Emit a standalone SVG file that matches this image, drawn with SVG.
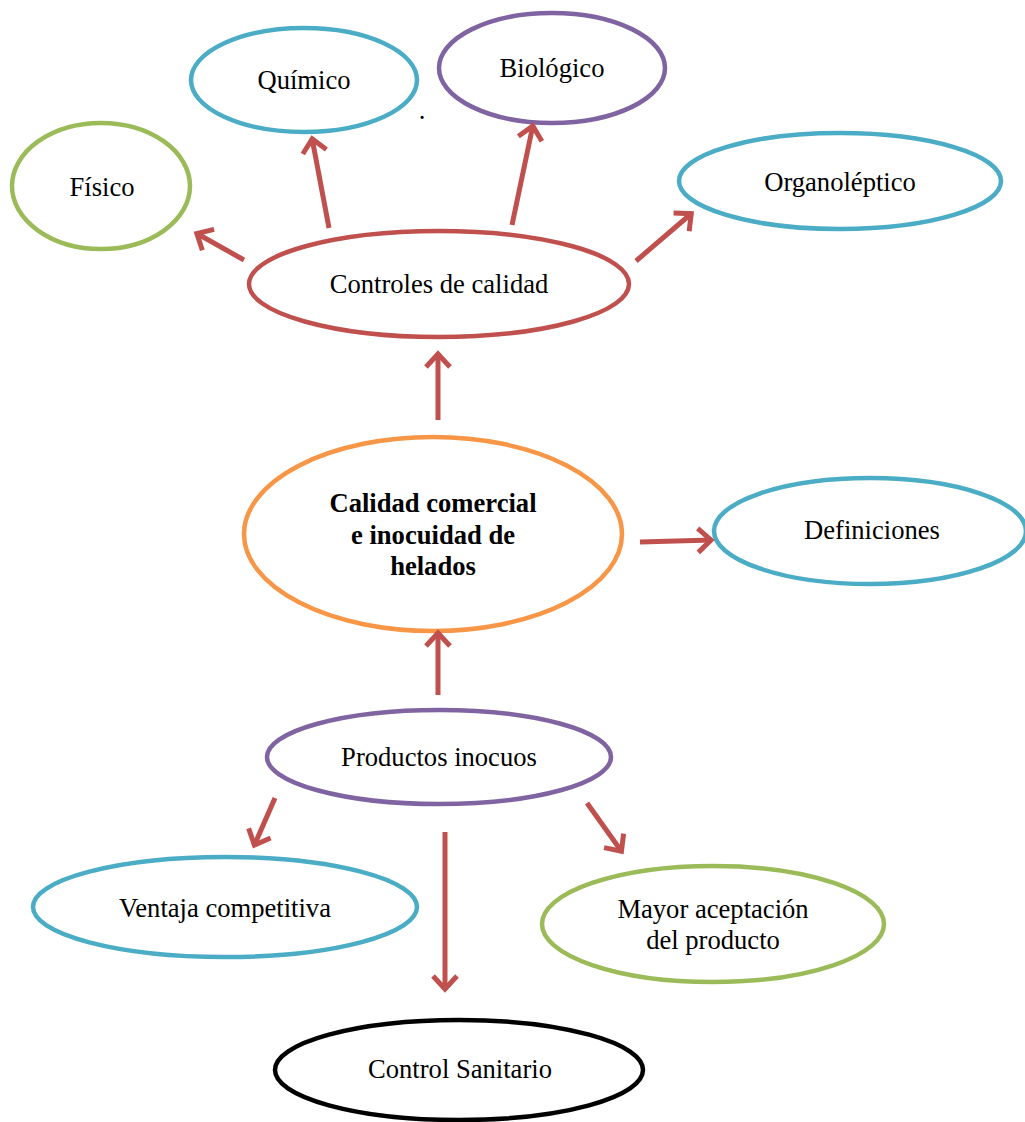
<svg xmlns="http://www.w3.org/2000/svg" width="1025" height="1122" viewBox="0 0 1025 1122">
<style>
.n{fill:#fff;stroke-width:4.5}
.t{font-family:"Liberation Serif","Times New Roman",serif;font-size:26.6px;fill:#000;text-anchor:middle}
.b{font-weight:bold}
.c{stroke:#C0504D;stroke-width:5;fill:none}
</style>
<defs>
<marker id="ah" markerUnits="userSpaceOnUse" markerWidth="40" markerHeight="40" viewBox="-20 -20 40 40" refX="0" refY="0" orient="auto">
<path d="M-14,-12 L-1,0 L-14,12" fill="none" stroke="#C0504D" stroke-width="5" stroke-linejoin="miter"/>
</marker>
</defs>
<rect width="1025" height="1122" fill="#fff"/>
<g id="quimico"><ellipse class="n" cx="304" cy="80" rx="113" ry="52" stroke="#4BACC6"/><text class="t" x="304" y="89">Químico</text></g>
<g id="biologico"><ellipse class="n" cx="552" cy="68" rx="113" ry="55" stroke="#8064A2"/><text class="t" x="552" y="77">Biológico</text></g>
<g id="fisico"><ellipse class="n" cx="101" cy="186" rx="89" ry="63" stroke="#9BBB59"/><text class="t" x="102" y="196">Físico</text></g>
<g id="organoleptico"><ellipse class="n" cx="840" cy="181" rx="161" ry="48" stroke="#4BACC6"/><text class="t" x="840" y="191">Organoléptico</text></g>
<g id="controles"><ellipse class="n" cx="439" cy="284" rx="190" ry="53" stroke="#C0504D"/><text class="t" x="439" y="293">Controles de calidad</text></g>
<g id="calidad"><ellipse class="n" cx="433" cy="534" rx="189" ry="97" stroke="#F79646"/><text class="t b" x="433" y="512">Calidad comercial</text><text class="t b" x="433" y="544">e inocuidad de</text><text class="t b" x="433" y="575">helados</text></g>
<g id="definiciones"><ellipse class="n" cx="870" cy="531" rx="156" ry="53" stroke="#4BACC6"/><text class="t" x="872" y="539">Definiciones</text></g>
<g id="productos"><ellipse class="n" cx="439" cy="757" rx="172" ry="47" stroke="#8064A2"/><text class="t" x="439" y="766">Productos inocuos</text></g>
<g id="ventaja"><ellipse class="n" cx="225" cy="907" rx="192" ry="50" stroke="#4BACC6"/><text class="t" x="225" y="917">Ventaja competitiva</text></g>
<g id="mayor"><ellipse class="n" cx="713" cy="924" rx="171" ry="58" stroke="#9BBB59"/><text class="t" x="713" y="918">Mayor aceptación</text><text class="t" x="713" y="949">del producto</text></g>
<g id="sanitario"><ellipse class="n" cx="459" cy="1070" rx="184" ry="50" stroke="#000" stroke-width="5"/><text class="t" x="460" y="1078">Control Sanitario</text></g>
<g id="connectors">
<line class="c" x1="244" y1="260" x2="196" y2="233" marker-end="url(#ah)"/>
<line class="c" x1="329" y1="228" x2="312" y2="138" marker-end="url(#ah)"/>
<line class="c" x1="512" y1="225" x2="533" y2="125" marker-end="url(#ah)"/>
<line class="c" x1="636" y1="261" x2="692" y2="213" marker-end="url(#ah)"/>
<line class="c" x1="438" y1="420" x2="438" y2="353" marker-end="url(#ah)"/>
<line class="c" x1="640" y1="542" x2="712" y2="540" marker-end="url(#ah)"/>
<line class="c" x1="438" y1="695" x2="438" y2="632" marker-end="url(#ah)"/>
<line class="c" x1="275" y1="798" x2="254" y2="846" marker-end="url(#ah)"/>
<line class="c" x1="445" y1="832" x2="445" y2="990" marker-end="url(#ah)"/>
<line class="c" x1="587" y1="803" x2="622" y2="852" marker-end="url(#ah)"/>
</g>
<text class="t" x="422" y="119">.</text>
</svg>
